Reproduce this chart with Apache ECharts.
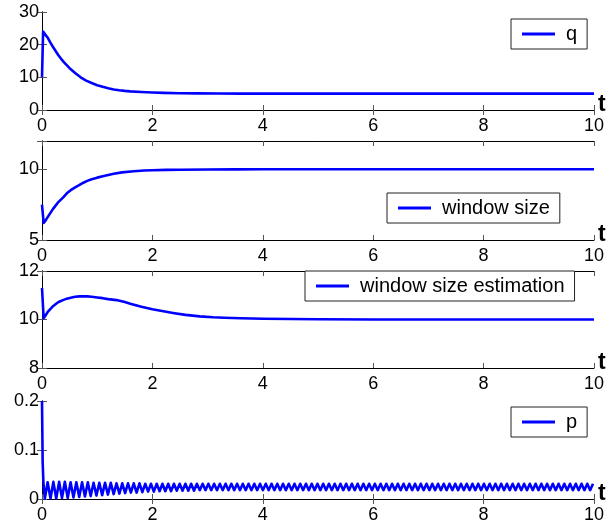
<!DOCTYPE html>
<html><head><meta charset="utf-8">
<script src="https://cdn.jsdelivr.net/npm/echarts@6/dist/echarts.min.js"></script>
<style>html,body{margin:0;padding:0;background:#fff}#c{width:616px;height:529px}</style>
</head><body><div id="c"></div>
<script>
// ---- data ----
const xTicks = [0, 2, 4, 6, 8, 10];
const qT = [0, 0.02, 0.05, 0.1, 0.15, 0.2, 0.25, 0.3, 0.35, 0.4, 0.5, 0.6, 0.7, 0.8, 0.9, 1.0, 1.1, 1.2, 1.3, 1.4, 1.5, 1.6, 1.8, 2.0, 2.2, 2.5, 2.8, 3.2, 3.6, 4, 5, 6, 7, 8, 9, 10];
const qV = [10, 24, 23.4, 22.2, 20.7, 19.3, 18.0, 16.7, 15.6, 14.6, 12.8, 11.3, 10.0, 9.0, 8.25, 7.6, 7.1, 6.65, 6.3, 6.05, 5.85, 5.7, 5.5, 5.35, 5.25, 5.15, 5.08, 5.04, 5.02, 5.01, 5, 5, 5, 5, 5, 5];
const wT = [0, 0.03, 0.06, 0.1, 0.15, 0.2, 0.25, 0.3, 0.38, 0.45, 0.52, 0.6, 0.68, 0.75, 0.82, 0.9, 1.0, 1.1, 1.2, 1.3, 1.45, 1.66, 1.85, 2.0, 2.25, 2.5, 3, 3.5, 4, 5, 10];
const wV = [7.5, 6.2, 6.35, 6.6, 6.9, 7.2, 7.45, 7.7, 8.0, 8.3, 8.52, 8.72, 8.9, 9.05, 9.18, 9.3, 9.41, 9.51, 9.6, 9.68, 9.78, 9.86, 9.91, 9.93, 9.955, 9.97, 9.99, 9.995, 10, 10, 10];
const eT = [0, 0.03, 0.06, 0.1, 0.15, 0.2, 0.25, 0.3, 0.38, 0.45, 0.52, 0.6, 0.68, 0.75, 0.82, 0.9, 1.0, 1.1, 1.2, 1.35, 1.5, 1.6, 1.8, 2, 2.2, 2.4, 2.6, 2.86, 3.1, 3.3, 3.6, 4, 4.5, 5, 6, 8, 10];
const eV = [11.3, 10.05, 10.15, 10.3, 10.43, 10.55, 10.64, 10.72, 10.8, 10.86, 10.9, 10.94, 10.955, 10.96, 10.955, 10.94, 10.91, 10.88, 10.84, 10.8, 10.72, 10.65, 10.53, 10.42, 10.34, 10.26, 10.19, 10.13, 10.09, 10.07, 10.05, 10.03, 10.02, 10.01, 10, 10, 10];
const pHeadT = [0, 0.012, 0.025];
const pHeadV = [0.2, 0.075, 0.035];
const pStart = 0.05, pStep = 0.052;
const pOsc = [
  0.000,0.034, 0.001,0.035, 0.001,0.035, 0.002,0.035, 0.002,0.034, 0.003,0.034, 0.004,0.034, 0.005,0.034, 0.006,0.033, 0.007,0.033,
  0.008,0.033, 0.009,0.033, 0.010,0.032, 0.011,0.032, 0.012,0.032, 0.013,0.032, 0.013,0.032, 0.014,0.031, 0.015,0.031, 0.015,0.031,
  0.016,0.031, 0.016,0.031, 0.016,0.031, 0.017,0.031, 0.017,0.031, 0.017,0.031, 0.017,0.031, 0.018,0.031, 0.018,0.031, 0.018,0.031,
  0.018,0.031, 0.018,0.031, 0.018,0.031, 0.018,0.031, 0.018,0.031, 0.018,0.031, 0.018,0.031, 0.018,0.031, 0.018,0.031, 0.018,0.031,
  0.018,0.031, 0.018,0.031, 0.018,0.031, 0.018,0.031, 0.018,0.031, 0.018,0.031, 0.018,0.031, 0.018,0.031, 0.018,0.031, 0.018,0.031,
  0.018,0.031, 0.018,0.031, 0.018,0.031, 0.018,0.031, 0.018,0.031, 0.018,0.031, 0.018,0.031, 0.018,0.031, 0.018,0.031, 0.018,0.031,
  0.018,0.031, 0.018,0.031, 0.018,0.031, 0.018,0.031, 0.018,0.031, 0.018,0.031, 0.018,0.031, 0.018,0.031, 0.018,0.031, 0.018,0.031,
  0.018,0.031, 0.018,0.031, 0.018,0.031, 0.018,0.031, 0.018,0.031, 0.018,0.031, 0.018,0.031, 0.018,0.031, 0.018,0.031, 0.018,0.031,
  0.018,0.031, 0.018,0.031, 0.018,0.031, 0.018,0.031, 0.018,0.031, 0.018,0.031, 0.018,0.031, 0.018,0.031, 0.018,0.031, 0.018,0.031,
  0.018,0.031, 0.018,0.031, 0.018,0.031, 0.018,0.031, 0.018,0.031, 0.018,0.031
];
const names = ['q', 'window size', 'window size estimation', 'p'];
const yMins = [0, 5, 8, 0];
const yMaxs = [30, 12, 12, 0.2];
const yIntervals = [10, 5, 2, 0.1];
const yShown = [[0, 10, 20, 30], [5, 10], [8, 10, 12], [0, 0.1, 0.2]];

// ---- build ----
const zip = (a, b) => a.map((t, i) => [t, b[i]]);
const pData = zip(pHeadT, pHeadV).concat(pOsc.map((v, i) => [pStart + i * pStep, v]));
const seriesData = [zip(qT, qV), zip(wT, wV), zip(eT, eV), pData];

const FONT = 'Liberation Sans';
const grids = [
  {left: 42, top: 12, width: 552, height: 98},
  {left: 42, top: 141, width: 552, height: 99},
  {left: 42, top: 271, width: 552, height: 97},
  {left: 42, top: 401, width: 552, height: 98}
];
const legendPos = [
  {left: 511, top: 19},
  {left: 387, top: 193},
  {left: 305, top: 271},
  {left: 511, top: 407}
];
const axisLine = {show: true, lineStyle: {color: '#000', width: 1}};
const tick = {show: true, inside: true, length: 5, lineStyle: {color: '#555'}};
const xAxes = [], yAxes = [], series = [], legends = [];
grids.forEach((g, i) => {
  xAxes.push({type: 'value', gridIndex: i, min: 0, max: 10, interval: 2, position: 'bottom',
    axisLine, axisTick: tick, splitLine: {show: false},
    axisLabel: {color: '#000', fontFamily: FONT, fontSize: 18, margin: 7},
    name: 't', nameLocation: 'end', nameGap: 4,
    nameTextStyle: {color: '#000', fontFamily: FONT, fontSize: 23, fontWeight: 'bold', verticalAlign: 'bottom', padding: [0, 0, -6, 0]}});
  xAxes.push({type: 'value', gridIndex: i, min: 0, max: 10, interval: 2, position: 'top',
    axisLine, axisTick: tick, splitLine: {show: false}, axisLabel: {show: false}});
  const shown = yShown[i];
  yAxes.push({type: 'value', gridIndex: i, min: yMins[i], max: yMaxs[i], interval: yIntervals[i], position: 'left',
    axisLine, axisTick: tick, splitLine: {show: false},
    axisLabel: {color: '#000', fontFamily: FONT, fontSize: 18, margin: 3, showMaxLabel: true, showMinLabel: true,
      formatter: v => shown.some(s => Math.abs(s - v) < 1e-9) ? String(+v.toFixed(2)) : ''}});
  yAxes.push({type: 'value', gridIndex: i, min: yMins[i], max: yMaxs[i], interval: yIntervals[i], position: 'right',
    axisLine, axisTick: tick, splitLine: {show: false}, axisLabel: {show: false}});
  series.push({type: 'line', name: names[i], xAxisIndex: 2 * i, yAxisIndex: 2 * i,
    data: seriesData[i], symbol: 'none', showSymbol: false, smooth: false,
    lineStyle: {color: '#0000ff', width: 2.6, join: 'round'}, itemStyle: {color: '#0000ff'}, animation: false});
  legends.push({data: [{name: names[i], icon: 'rect'}], left: legendPos[i].left, top: legendPos[i].top,
    orient: 'horizontal', backgroundColor: '#fff', borderColor: '#222', borderWidth: 1,
    padding: [5, 10, 5, 11], itemWidth: 33, itemHeight: 3, selectedMode: false,
    itemStyle: {color: '#0000ff'},
    textStyle: {color: '#000', fontFamily: FONT, fontSize: 20, padding: [0, 0, 0, 6]}});
});

const chart = echarts.init(document.getElementById('c'), null, {renderer: 'canvas'});
chart.setOption({
  animation: false,
  backgroundColor: '#fff',
  grid: grids,
  xAxis: xAxes,
  yAxis: yAxes,
  legend: legends,
  series: series
});
</script></body></html>
